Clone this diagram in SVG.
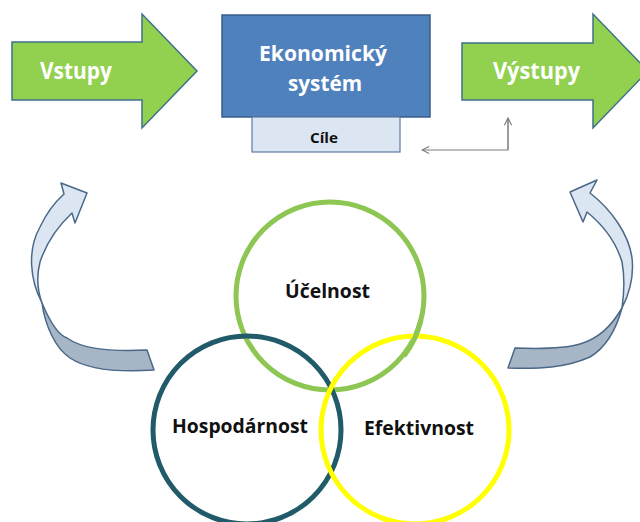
<svg xmlns="http://www.w3.org/2000/svg" width="640" height="522" viewBox="0 0 640 522">
<style>
.big{font-family:"Open Sans","Liberation Sans",sans-serif;font-weight:bold;fill:#ffffff;font-size:24px}
.lbl{font-family:"Open Sans","Liberation Sans",sans-serif;font-weight:bold;fill:#111111;font-size:19px}
.garrow{fill:#92d050;stroke:#3f6f8a;stroke-width:1.5;stroke-linejoin:miter}
.light{fill:#dce6f2;stroke:#4a6888;stroke-width:1.5;stroke-linejoin:round}
.dark{fill:#a7b6c6;stroke:#4a6888;stroke-width:1.5;stroke-linejoin:round}
.ring{fill:none;stroke-width:5}
.conn{fill:none;stroke:#7a7a7a;stroke-width:1}
</style>
<defs>
<marker id="ah" viewBox="0 0 10 10" refX="9" refY="5" markerWidth="9" markerHeight="9" orient="auto" markerUnits="userSpaceOnUse">
<path d="M1,1 L9,5 L1,9" fill="none" stroke="#7a7a7a" stroke-width="1.2"/>
</marker>
</defs>
<rect width="640" height="522" fill="#ffffff"/>

<g id="vstupy">
<path class="garrow" d="M12,42 L142,42 L142,14 L197,71 L142,128 L142,100 L12,100 Z"/>
<text class="big" x="40" y="79" textLength="72" lengthAdjust="spacingAndGlyphs">Vstupy</text>
</g>

<g id="system">
<rect x="222" y="15" width="208" height="102" fill="#4f81bd" stroke="#385d8a" stroke-width="1.5"/>
<text class="big" x="259" y="61" style="font-size:22px" textLength="128" lengthAdjust="spacingAndGlyphs">Ekonomický</text>
<text class="big" x="288" y="91" style="font-size:22px" textLength="74" lengthAdjust="spacingAndGlyphs">systém</text>
</g>

<g id="cile">
<rect x="252" y="117" width="148" height="35" fill="#dce6f2" stroke="#5a7aa3" stroke-width="1.2"/>
<text class="lbl" x="310" y="143" style="font-size:15px" textLength="28" lengthAdjust="spacingAndGlyphs">Cíle</text>
</g>

<g id="vystupy">
<path class="garrow" d="M462,43 L593,43 L593,14 L648,71 L593,128 L593,100 L462,100 Z"/>
<text class="big" x="493" y="79" textLength="87" lengthAdjust="spacingAndGlyphs">Výstupy</text>
</g>

<g id="left-cycle-arrow">
<path class="dark" d="M42,303 C50,322 58,335 67,338 C80,347 100,352 147,350 L154,370 C110,373 85,368 70,358 C55,348 45,325 42,303 Z"/>
<path class="light" d="M42,303 C30,280 27,250 40,227 C46,214 54,203 64,194 L61,183 L87,193 L75,223 L72,213 C58,226 46,244 40,262 C36,278 38,292 42,303 Z"/>
</g>

<g id="right-cycle-arrow">
<path class="dark" d="M622,308 C612,325 600,338 580,344 C563,349 540,349 515,348 L508,368 C540,369 565,368 590,357 C605,348 616,330 622,308 Z"/>
<path class="light" d="M622,308 C630,292 634,275 632,258 C629,235 612,210 590,193 L597,180 L570,192 L583,222 L587,212 C603,225 616,242 622,262 C625,278 624,294 622,308 Z"/>
</g>

<g id="connectors">
<polyline class="conn" points="508,118 508,150 422,150" marker-end="url(#ah)"/>
<line class="conn" x1="508" y1="150" x2="508" y2="118" marker-end="url(#ah)"/>
</g>

<g id="ucelnost">
<circle class="ring" cx="330" cy="296" r="94" stroke="#8dc652"/>
<text class="lbl" x="285" y="298" textLength="85" lengthAdjust="spacingAndGlyphs">Účelnost</text>
</g>

<g id="hospodarnost">
<circle class="ring" cx="247" cy="430" r="94" stroke="#215a68"/>
<text class="lbl" x="172" y="433" textLength="136" lengthAdjust="spacingAndGlyphs">Hospodárnost</text>
</g>

<g id="efektivnost">
<circle class="ring" cx="415" cy="430" r="94" stroke="#ffff00"/>
<text class="lbl" x="364" y="435" textLength="110" lengthAdjust="spacingAndGlyphs">Efektivnost</text>
</g>

<path d="M421,320 A94,94 0 0 1 404,356" fill="none" stroke="#8dc652" stroke-width="5"/>
</svg>
